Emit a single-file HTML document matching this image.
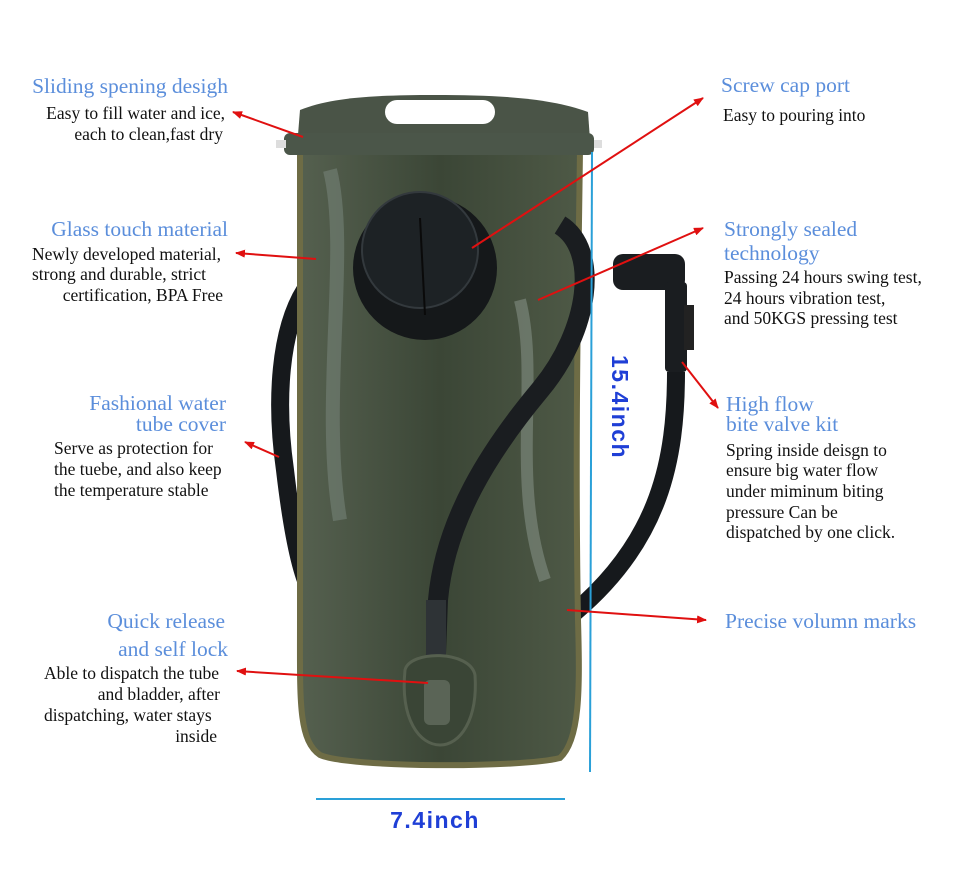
<!DOCTYPE html>
<html><head><meta charset="utf-8"><style>
html,body{margin:0;padding:0;background:#fff;}
svg{display:block}
.b{font-family:"Liberation Serif",serif;font-size:21.5px;fill:#5b8edb}
.t{font-family:"Liberation Serif",serif;font-size:17.5px;fill:#111}
.d{font-family:"Liberation Sans",sans-serif;font-size:23px;font-weight:bold;fill:#1f3fd6;letter-spacing:1.5px}
</style></head><body>
<svg width="970" height="876" viewBox="0 0 970 876" xmlns="http://www.w3.org/2000/svg">
<defs>
<marker id="a" markerWidth="10" markerHeight="8" refX="9" refY="4" orient="auto" markerUnits="userSpaceOnUse"><path d="M0,0 L10,4 L0,8 Z" fill="#e01010"/></marker>
<linearGradient id="g" x1="0" x2="1"><stop offset="0" stop-color="#55604f"/><stop offset="0.5" stop-color="#3b4636"/><stop offset="1" stop-color="#4e5946"/></linearGradient>
</defs>
<path d="M305,290 C280,330 275,400 285,470 C292,530 300,570 310,590" stroke="#16191c" stroke-width="18" fill="none"/>
<path d="M676,372 C676,460 660,540 575,612" stroke="#16191c" stroke-width="18" fill="none"/>
<path d="M300,150 L580,150 C578,300 575,450 578,620 C580,690 580,740 560,758 C520,768 350,768 320,755 C298,740 300,700 300,620 Z" fill="url(#g)" stroke="#6e6c45" stroke-width="6"/>
<path d="M330,170 C350,250 320,400 340,520" stroke="#7c8a80" stroke-width="14" fill="none" opacity="0.5"/>
<path d="M520,300 C540,380 510,480 545,580" stroke="#8d9a90" stroke-width="12" fill="none" opacity="0.5"/>
<path d="M298,135 L300,110 C330,98 370,95 435,95 C500,95 550,98 588,112 L590,140 Z" fill="#4a5447"/>
<rect x="385" y="100" width="110" height="24" rx="12" fill="#fff"/>
<rect x="284" y="133" width="310" height="22" rx="6" fill="#4b5649"/>
<rect x="276" y="140" width="10" height="8" fill="#ddd"/><rect x="594" y="140" width="8" height="8" fill="#ddd"/>
<circle cx="425" cy="268" r="72" fill="#15181a"/>
<circle cx="420" cy="250" r="58" fill="#1d2225" stroke="#33393d" stroke-width="2"/>
<line x1="420" y1="218" x2="425" y2="315" stroke="#0a0a0a" stroke-width="2"/>
<path d="M560,225 C600,250 590,330 540,390 C490,450 445,520 438,600 L435,680" stroke="#1a1d20" stroke-width="20" fill="none"/>
<rect x="426" y="600" width="20" height="80" fill="#2e3336"/>
<path d="M405,670 C410,650 470,650 475,675 C478,720 460,745 440,745 C420,745 400,720 405,670 Z" fill="#3a4536" stroke="#56604f" stroke-width="3"/>
<rect x="424" y="680" width="26" height="45" rx="6" fill="#5a6456"/>
<rect x="613" y="254" width="72" height="36" rx="10" fill="#1a1d20"/>
<rect x="665" y="282" width="22" height="90" rx="4" fill="#1a1d20"/>
<rect x="684" y="305" width="10" height="45" fill="#222"/>
<line x1="592" y1="152" x2="590" y2="772" stroke="#2aa0d8" stroke-width="2"/>
<line x1="316" y1="799" x2="565" y2="799" stroke="#2aa0d8" stroke-width="2"/>
<text class="d" x="0" y="0" transform="translate(612,355) rotate(90)">15.4inch</text>
<text class="d" x="435" y="828" text-anchor="middle">7.4inch</text>
<g stroke="#e01010" stroke-width="2" fill="none" marker-end="url(#a)">
<line x1="303" y1="137" x2="233" y2="112"/>
<line x1="316" y1="259" x2="236" y2="253"/>
<line x1="279" y1="457" x2="245" y2="442"/>
<line x1="428" y1="683" x2="237" y2="671"/>
<line x1="472" y1="248" x2="703" y2="98"/>
<line x1="538" y1="300" x2="703" y2="228"/>
<line x1="682" y1="362" x2="718" y2="408"/>
<line x1="567" y1="610" x2="706" y2="620"/>
</g>
<text class="b" x="228" y="93" text-anchor="end">Sliding spening desigh</text>
<text class="t" x="225" y="119" text-anchor="end">Easy to fill water and ice,</text>
<text class="t" x="223" y="140" text-anchor="end">each to clean,fast dry</text>
<text class="b" x="228" y="236" text-anchor="end">Glass touch material</text>
<text class="t" x="32" y="260">Newly developed material,</text>
<text class="t" x="32" y="280">strong and durable, strict</text>
<text class="t" x="223" y="301" text-anchor="end">certification, BPA Free</text>
<text class="b" x="226" y="410" text-anchor="end">Fashional water</text>
<text class="b" x="226" y="431" text-anchor="end">tube cover</text>
<text class="t" x="54" y="454">Serve as protection for</text>
<text class="t" x="54" y="475">the tuebe, and also keep</text>
<text class="t" x="54" y="496">the temperature stable</text>
<text class="b" x="225" y="628" text-anchor="end">Quick release</text>
<text class="b" x="228" y="656" text-anchor="end">and self lock</text>
<text class="t" x="44" y="679">Able to dispatch the tube</text>
<text class="t" x="220" y="700" text-anchor="end">and bladder, after</text>
<text class="t" x="44" y="721">dispatching, water stays</text>
<text class="t" x="217" y="742" text-anchor="end">inside</text>
<text class="b" x="721" y="92">Screw cap port</text>
<text class="t" x="723" y="121">Easy to pouring into</text>
<text class="b" x="724" y="236">Strongly sealed</text>
<text class="b" x="724" y="260">technology</text>
<text class="t" x="724" y="283">Passing 24 hours swing test,</text>
<text class="t" x="724" y="304">24 hours vibration test,</text>
<text class="t" x="724" y="324">and 50KGS pressing test</text>
<text class="b" x="726" y="411">High flow</text>
<text class="b" x="726" y="431">bite valve kit</text>
<text class="t" x="726" y="456">Spring inside deisgn to</text>
<text class="t" x="726" y="476">ensure big water flow</text>
<text class="t" x="726" y="497">under miminum biting</text>
<text class="t" x="726" y="518">pressure Can be</text>
<text class="t" x="726" y="538">dispatched by one click.</text>
<text class="b" x="725" y="628">Precise volumn marks</text>
</svg>
</body></html>
